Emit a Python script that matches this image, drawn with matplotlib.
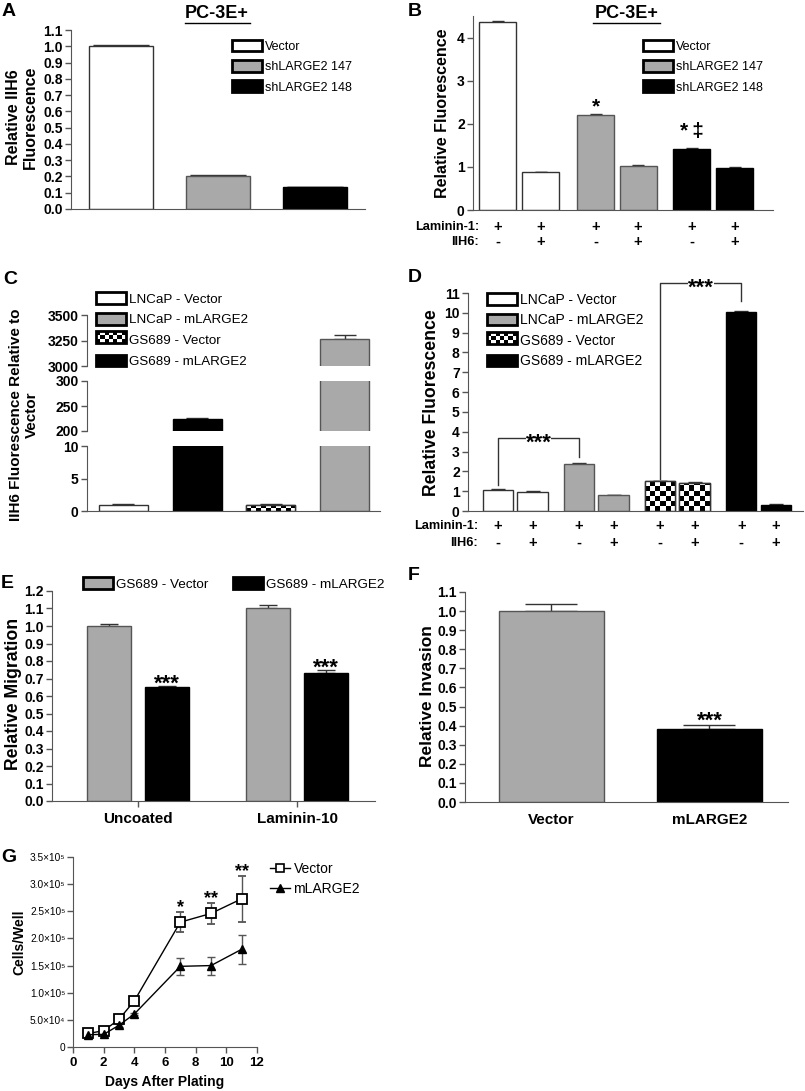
import numpy as np
import matplotlib
matplotlib.use('Agg')
import matplotlib.pyplot as plt
import matplotlib.transforms as mtransforms
from matplotlib.patches import Patch, Rectangle
from matplotlib.lines import Line2D

plt.rcParams['font.family'] = ['Liberation Sans', 'DejaVu Sans']
plt.rcParams['font.weight'] = 'bold'

# ---------------- data ----------------
# A: PC-3E+ IIH6 fluorescence
a_labels = ['Vector', 'shLARGE2 147', 'shLARGE2 148']
a_vals = [1.0, 0.205, 0.135]
a_err = [0.005, 0.003, 0.002]
a_fill = ['white', 'gray', 'black']

# B: PC-3E+ relative fluorescence (laminin-1 binding)
b_vals = [4.35, 0.88, 2.20, 1.03, 1.42, 0.98]
b_err = [0.03, 0.004, 0.02, 0.006, 0.02, 0.006]
b_fill = ['white', 'white', 'gray', 'gray', 'black', 'black']
b_lam = ['+', '+', '+', '+', '+', '+']
b_iih6 = ['-', '+', '-', '+', '-', '+']
b_marks = ['', '', '*', '', '*\u2009\u2021', '']

# C: IIH6 fluorescence relative to vector (broken axis)
c_labels = ['LNCaP - Vector', 'LNCaP - mLARGE2', 'GS689 - Vector', 'GS689 - mLARGE2']
c_vals = [1.0, 225, 1.0, 3265]
c_err = [0.05, 2, 0.05, 40]
c_fill = ['white', 'black', 'checker', 'gray']
c_ranges = [(3000, 3500), (200, 300), (0, 10)]
c_ticks = [[3000, 3250, 3500], [200, 250, 300], [0, 5, 10]]

# D: relative fluorescence, LNCaP / GS689
d_labels = c_labels
d_vals = [1.07, 0.98, 2.38, 0.82, 1.50, 1.42, 10.02, 0.32]
d_err = [0.02, 0.01, 0.03, 0.01, 0.02, 0.02, 0.08, 0.02]
d_fill = ['white', 'white', 'gray', 'gray', 'checker', 'checker', 'black', 'black']
d_lam = ['+', '+', '+', '+', '+', '+', '+', '+']
d_iih6 = ['-', '+', '-', '+', '-', '+', '-', '+']
# (from bar, to bar, left foot, right foot, bracket top)
d_brackets = [(0, 2, 1.3, 2.7, 3.7), (4, 6, 1.6, 10.6, 11.5)]

# E: migration
e_groups = ['Uncoated', 'Laminin-10']
e_vector = [1.00, 1.10]
e_vector_err = [0.012, 0.022]
e_mlarge = [0.65, 0.73]
e_mlarge_err = [0.006, 0.017]

# F: invasion
f_labels = ['Vector', 'mLARGE2']
f_vals = [1.0, 0.385]
f_err = [0.035, 0.02]
f_marks = ['', '***']

# G: growth curve
g_days = [1, 2, 3, 4, 7, 9, 11]
g_vector = [25000, 30000, 51000, 85000, 230000, 246000, 273000]
g_vector_err = [2500, 2500, 3000, 3500, 17800, 19000, 42000]
g_mlarge = [22700, 23300, 40000, 60800, 148600, 150000, 180000]
g_mlarge_err = [1500, 1500, 2500, 2500, 15400, 16500, 27000]
g_marks = ['', '', '', '', '*', '**', '**']
g_yticks = [0, 50000, 100000, 150000, 200000, 250000, 300000, 350000]
g_yticklabels = ['0', '5.0\u00d710\u2074', '1.0\u00d710\u2075', '1.5\u00d710\u2075',
                 '2.0\u00d710\u2075', '2.5\u00d710\u2075', '3.0\u00d710\u2075', '3.5\u00d710\u2075']

# ---------------- helpers ----------------
W, H = 805, 1091
fig = plt.figure(figsize=(W / 100, H / 100), dpi=100)

GRAY = '#a9a9a9'
AXC = '#555555'
FILL = {'white': 'white', 'gray': GRAY, 'black': 'black', 'checker': 'white'}
EDGE = {'white': '#333333', 'gray': '#555555', 'black': 'black', 'checker': '#333333'}


def px_axes(l, t, r, b):
    return fig.add_axes([l / W, 1 - b / H, (r - l) / W, (b - t) / H])


def style(ax, bottom=True, fs=10):
    ax.spines['top'].set_visible(False)
    ax.spines['right'].set_visible(False)
    ax.spines['left'].set_color(AXC)
    ax.spines['bottom'].set_color(AXC)
    ax.spines['bottom'].set_visible(bottom)
    ax.tick_params(axis='y', direction='out', length=4, width=1, color=AXC, pad=2, labelsize=fs)
    ax.tick_params(axis='x', direction='out', length=0, width=1, color=AXC, labelsize=fs)
    ax.set_facecolor('none')


def checker(ax, bar, nx, sy):
    x, w, h = bar.get_x(), bar.get_width(), bar.get_height()
    ny = int(np.ceil(h / sy))
    img = np.indices((ny, nx)).sum(axis=0) % 2
    im = ax.imshow(img, cmap='gray', extent=(x, x + w, 0, ny * sy), origin='lower',
                   aspect='auto', interpolation='nearest', zorder=2.5)
    im.set_clip_path(bar)
    ax.bar(x + w / 2, h, w, fill=False, edgecolor=EDGE['checker'], linewidth=1, zorder=3)


def draw_bars(ax, x, vals, err, fills, width, capsize, nx=6, sy=0.25):
    bars = ax.bar(x, vals, width, color=[FILL[f] for f in fills],
                  edgecolor=[EDGE[f] for f in fills], linewidth=1, zorder=2)
    ax.errorbar(x, vals, yerr=[np.zeros(len(vals)), err], fmt='none', ecolor='#333333',
                elinewidth=1, capsize=capsize, capthick=1, zorder=1)
    for b, f in zip(bars, fills):
        if f == 'checker':
            checker(ax, b, nx, sy)
    return bars


class CheckerHandler:
    def legend_artist(self, legend, orig_handle, fontsize, handlebox):
        x0, y0 = handlebox.xdescent, handlebox.ydescent
        w, h = handlebox.width, handlebox.height
        tr = handlebox.get_transform()
        handlebox.add_artist(Rectangle((x0, y0), w, h, facecolor='white', edgecolor='none', transform=tr))
        nx, ny = 7, 3
        for i in range(nx):
            for j in range(ny):
                if (i + j) % 2 == 0:
                    handlebox.add_artist(Rectangle((x0 + i * w / nx, y0 + j * h / ny), w / nx, h / ny,
                                                   facecolor='black', edgecolor='none', transform=tr))
        frame = Rectangle((x0, y0), w, h, facecolor='none', edgecolor='black', linewidth=2, transform=tr)
        handlebox.add_artist(frame)
        return frame


def bar_handles(labels, fills):
    hs, hmap = [], {}
    for lab, f in zip(labels, fills):
        p = Patch(facecolor=FILL[f], edgecolor='black', linewidth=2, label=lab)
        if f == 'checker':
            hmap[p] = CheckerHandler()
        hs.append(p)
    return hs, hmap


def px_legend(handles, left, first_row, fs, row_px=22, hl_px=30, hh_px=13, hmap=None):
    fpx = fs * 100 / 72
    txt_h = fpx * 1.17
    top = first_row - max(txt_h, hh_px) / 2
    return fig.legend(handles=handles, loc='upper left', bbox_to_anchor=(left / W, 1 - top / H),
                      frameon=False, prop={'size': fs, 'weight': 'normal'},
                      handlelength=hl_px / fpx, handleheight=hh_px / fpx,
                      handletextpad=0.25, labelspacing=(row_px - max(txt_h, hh_px)) / fpx,
                      borderpad=0, borderaxespad=0, handler_map=hmap)


def ftext(x, y, s, **kw):
    return fig.text(x / W, 1 - y / H, s, **kw)


def title_underlined(x, y, x0, x1, yl, s):
    ftext(x, y, s, ha='center', va='center', fontsize=13)
    fig.add_artist(Line2D([x0 / W, x1 / W], [1 - yl / H] * 2, color='black', linewidth=1))


def row_labels(ax, xs, rows, names, ys, xlab):
    tr = mtransforms.blended_transform_factory(ax.transData, ax.transAxes)
    for row, name, y in zip(rows, names, ys):
        ax.text(xlab, y, name, transform=tr, ha='right', va='center', fontsize=9.2, clip_on=False)
        for xi, s in zip(xs, row):
            ax.text(xi, y, s, transform=tr, ha='center', va='center', fontsize=10.5, clip_on=False)


# ---------------- panel letters ----------------
for letter, (x, y) in zip('ABCDEFG', [(2, 11), (408, 11), (3, 280), (408, 277), (1, 584), (408, 576), (1, 858)]):
    ftext(x, y, letter, ha='left', va='center', fontsize=14)

# ---------------- A ----------------
axA = px_axes(71, 30, 365, 209)
xa = np.arange(len(a_vals))
draw_bars(axA, xa, a_vals, a_err, a_fill, 0.66, 20)
axA.set_xlim(-0.515, 2.515)
axA.set_ylim(0, 1.1)
axA.set_yticks(np.round(np.arange(0, 1.11, 0.1), 1))
axA.set_yticklabels(['%.1f' % v for v in np.arange(0, 1.11, 0.1)])
axA.set_xticks([])
style(axA)
ftext(22, 117, 'Relative IIH6\nFluorescence', rotation=90, ha='center', va='center',
      fontsize=11.5, multialignment='center')
title_underlined(217, 14, 185, 250, 23, 'PC-3E+')
h, hm = bar_handles(a_labels, a_fill)
px_legend(h, 232, 47, 9, row_px=22, hmap=hm)

# ---------------- B ----------------
axB = px_axes(473, 16, 773, 210)
xb = np.array([0, 1, 2.28, 3.26, 4.51, 5.51])
draw_bars(axB, xb, b_vals, b_err, b_fill, 0.86, 4)
axB.set_xlim(-0.58, 6.4)
axB.set_ylim(0, 4.5)
axB.set_yticks([0, 1, 2, 3, 4])
axB.set_xticks([])
style(axB)
for xi, v, e, m, off in zip(xb, b_vals, b_err, b_marks, [0, 0, 1.5, 0, 8, 0]):
    if m:
        axB.annotate(m, (xi, v + e), xytext=(0, off), textcoords='offset points',
                     ha='center', va='baseline', fontsize=15)
row_labels(axB, xb, [b_lam, b_iih6], ['Laminin-1:', 'IIH6:'], [-0.088, -0.165], -0.44)
ftext(442, 113, 'Relative Fluorescence', rotation=90, ha='center', va='center', fontsize=11.5)
title_underlined(627, 14, 593, 660, 23, 'PC-3E+')
h, hm = bar_handles(a_labels, a_fill)
px_legend(h, 643, 47, 9, row_px=22, hmap=hm)

# ---------------- C ----------------
c_px = [(315, 366), (381, 431), (446, 511)]
xc = np.arange(len(c_vals))
for i, ((t, b), rng, tks) in enumerate(zip(c_px, c_ranges, c_ticks)):
    ax = px_axes(87, t, 380, b)
    draw_bars(ax, xc, c_vals, c_err, c_fill, 0.665, 8, nx=10, sy=0.5)
    ax.set_xlim(-0.495, 3.48)
    ax.set_ylim(*rng)
    ax.set_yticks(tks)
    ax.set_xticks([])
    style(ax, bottom=(i == 2))
ftext(24, 415, 'IIH6 Fluorescence Relative to\nVector', rotation=90, ha='center', va='center',
      fontsize=11, multialignment='center')
h, hm = bar_handles(c_labels, ['white', 'gray', 'checker', 'black'])
px_legend(h, 96, 300, 9.6, row_px=23, hmap=hm)

# ---------------- D ----------------
axD = px_axes(468, 293, 803, 511)
xd = np.array([0, 1, 2.35, 3.35, 4.7, 5.7, 7.05, 8.05])
draw_bars(axD, xd, d_vals, d_err, d_fill, 0.88, 5, nx=6, sy=0.25)
axD.set_xlim(-0.87, 8.84)
axD.set_ylim(0, 11)
axD.set_yticks(range(0, 12))
axD.set_xticks([])
style(axD)
for i0, i1, f0, f1, top in d_brackets:
    axD.plot([xd[i0], xd[i0], xd[i1], xd[i1]], [f0, top, top, f1], color='#333333',
             linewidth=1, clip_on=False, zorder=4)
    axD.annotate('***', ((xd[i0] + xd[i1]) / 2, top), xytext=(0, -4), textcoords='offset points',
                 ha='center', va='center', fontsize=16, zorder=5, annotation_clip=False,
                 bbox=dict(facecolor='white', edgecolor='none', pad=0))
row_labels(axD, xd, [d_lam, d_iih6], ['Laminin-1:', 'IIH6:'], [-0.069, -0.147], -0.58)
ftext(432, 403, 'Relative Fluorescence', rotation=90, ha='center', va='center', fontsize=12.7)
h, hm = bar_handles(d_labels, ['white', 'gray', 'checker', 'black'])
px_legend(h, 487, 301, 10, row_px=22.7, hmap=hm)

# ---------------- E ----------------
axE = px_axes(52, 591, 375, 801)
xe = np.arange(len(e_groups))
draw_bars(axE, xe - 0.18, e_vector, e_vector_err, ['gray'] * 2, 0.277, 6.5)
draw_bars(axE, xe + 0.18, e_mlarge, e_mlarge_err, ['black'] * 2, 0.277, 6.5)
for xi, v, e in zip(xe + 0.18, e_mlarge, e_mlarge_err):
    axE.annotate('***', (xi, v + e), xytext=(0, -2.5), textcoords='offset points',
                 ha='center', va='baseline', fontsize=16)
axE.set_xlim(-0.541, 1.49)
axE.set_ylim(0, 1.2)
axE.set_yticks(np.round(np.arange(0, 1.21, 0.1), 1))
axE.set_yticklabels(['%.1f' % v for v in np.arange(0, 1.21, 0.1)])
axE.set_xticks(xe)
axE.set_xticklabels(e_groups)
style(axE)
axE.tick_params(axis='x', length=4, labelsize=11, pad=4)
ftext(14, 694, 'Relative Migration', rotation=90, ha='center', va='center', fontsize=12.7)
h, hm = bar_handles(['GS689 - Vector'], ['gray'])
px_legend(h, 83, 585, 9.7, hl_px=30)
h, hm = bar_handles(['GS689 - mLARGE2'], ['black'])
px_legend(h, 233, 585, 9.7, hl_px=30)

# ---------------- F ----------------
axF = px_axes(465, 592, 788, 802)
xf = np.arange(len(f_vals))
draw_bars(axF, xf, f_vals, f_err, ['gray', 'black'], 0.665, 19)
for xi, v, e, m in zip(xf, f_vals, f_err, f_marks):
    if m:
        axF.annotate(m, (xi, v + e), xytext=(0, -1.5), textcoords='offset points',
                     ha='center', va='baseline', fontsize=16)
axF.set_xlim(-0.547, 1.497)
axF.set_ylim(0, 1.1)
axF.set_yticks(np.round(np.arange(0, 1.11, 0.1), 1))
axF.set_yticklabels(['%.1f' % v for v in np.arange(0, 1.11, 0.1)])
axF.set_xticks(xf)
axF.set_xticklabels(f_labels)
style(axF)
axF.tick_params(axis='x', length=0, labelsize=11, pad=8)
ftext(428, 696, 'Relative Invasion', rotation=90, ha='center', va='center', fontsize=12.5)

# ---------------- G ----------------
axG = px_axes(73, 857, 257, 1047)
axG.errorbar(g_days, g_vector, yerr=g_vector_err, color='black', ecolor='#555555', linewidth=1,
             elinewidth=1, capsize=3, marker='s', ms=6.5, mfc='white', mec='black', mew=1.3, zorder=3)
axG.errorbar(g_days, g_mlarge, yerr=g_mlarge_err, color='black', ecolor='#555555', linewidth=1,
             elinewidth=1, capsize=3, marker='^', ms=6, mfc='black', mec='black', zorder=3)
for d, v, e, m in zip(g_days, g_vector, g_vector_err, g_marks):
    if m:
        axG.annotate(m, (d, v + e), xytext=(0, 0), textcoords='offset points', ha='center',
                     va='baseline', fontsize=13, annotation_clip=False)
axG.set_xlim(0, 12)
axG.set_ylim(0, 350000)
axG.set_xticks(range(0, 13, 2))
axG.set_yticks(g_yticks)
axG.set_yticklabels(g_yticklabels, fontweight='normal')
style(axG)
axG.tick_params(axis='y', labelsize=7.3, pad=1.5)
axG.tick_params(axis='x', length=4, labelsize=9.5, pad=3)
ftext(165, 1082, 'Days After Plating', ha='center', va='center', fontsize=10)
ftext(19, 942, 'Cells/Well', rotation=90, ha='center', va='center', fontsize=10)
gh = [Line2D([], [], color='black', marker='s', ms=6, mfc='white', mec='black', mew=1.2, lw=1, label='Vector'),
      Line2D([], [], color='black', marker='^', ms=6, mfc='black', mec='black', lw=1, label='mLARGE2')]
px_legend(gh, 270, 870, 10, row_px=22, hl_px=20, hh_px=10)

fig.savefig('out.png', dpi=100)
